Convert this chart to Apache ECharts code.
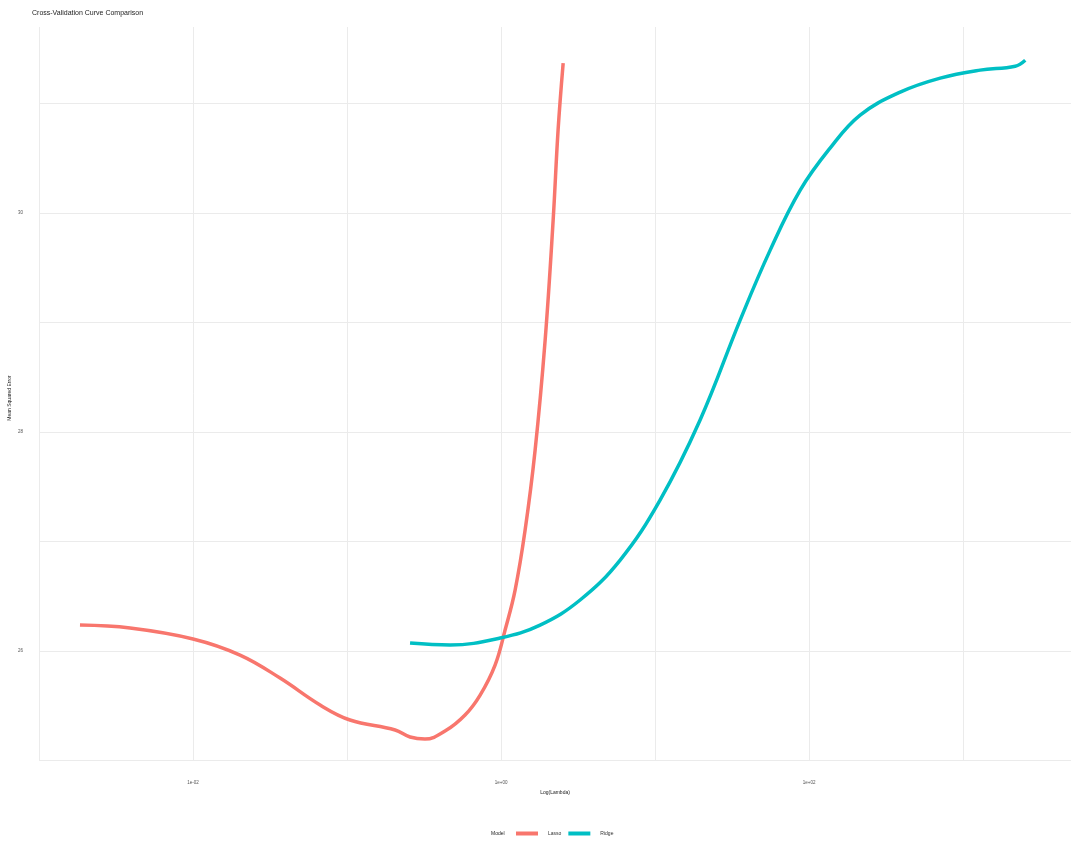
<!DOCTYPE html>
<html><head><meta charset="utf-8">
<script src="https://cdn.jsdelivr.net/npm/echarts@6/dist/echarts.min.js"></script>
<style>html,body{margin:0;padding:0;background:#fff}#c{width:1080px;height:864px}</style>
</head><body><div id="c"></div>
<script>
// log10(lambda) and mean squared error
const lassoLogLambda = [-2.734,-2.409,-2.0,-1.695,-1.435,-1.175,-0.981,-0.688,-0.591,-0.494,-0.364,-0.234,-0.136,-0.039,0.026,0.091,0.156,0.221,0.286,0.338,0.370,0.403];
const lassoMSE = [26.237,26.210,26.110,25.963,25.753,25.507,25.370,25.279,25.215,25.196,25.269,25.416,25.598,25.872,26.192,26.557,27.105,27.836,28.840,29.936,30.758,31.370];
const ridgeLogLambda = [-0.591,-0.331,-0.006,0.253,0.513,0.773,1.032,1.292,1.552,1.747,1.942,2.136,2.331,2.591,2.851,3.110,3.338,3.403];
const ridgeMSE = [26.073,26.055,26.119,26.237,26.466,26.831,27.379,28.110,29.023,29.662,30.210,30.594,30.895,31.105,31.233,31.306,31.342,31.397];
const xTickLabels = {'-2':'1e-02','0':'1e+00','2':'1e+02'};
const yTickLabels = {'26':'26','28':'28','30':'30'};
const seriesNames = ['Lasso','Ridge'];
const colors = ['#F8766D','#00BFC4'];

const chart = echarts.init(document.getElementById('c'));
const font = 'Liberation Sans, Arial, sans-serif';
chart.setOption({
  animation:false,
  backgroundColor:'#fff',
  title:{text:'Cross-Validation Curve Comparison',left:27,top:5,textStyle:{fontSize:7,fontWeight:'normal',color:'#222',fontFamily:font}},
  grid:{left:39,right:9,top:27,bottom:103.5,outerBoundsMode:'none',containLabel:false},
  legend:{top:826,left:511,itemWidth:22,itemHeight:4,itemGap:7,icon:'rect',
    data:seriesNames,textStyle:{fontSize:5,color:'#333',fontFamily:font,padding:[0,0,0,5]}},
  graphic:[
    {type:'text',left:491,top:831,style:{text:'Model',fontSize:5,fill:'#222',fontFamily:font}},
    {type:'text',x:10,y:398,rotation:Math.PI/2,style:{text:'Mean Squared Error',fontSize:5,fill:'#222',fontFamily:font,align:'center',verticalAlign:'middle'}}
  ],
  xAxis:{type:'value',min:-3,max:3.7,interval:1,name:'Log(Lambda)',nameLocation:'middle',nameGap:30,
    nameTextStyle:{fontSize:5,color:'#222',fontFamily:font},
    axisLine:{show:false},axisTick:{show:false},
    axisLabel:{fontSize:4.5,color:'#555',margin:20,fontFamily:font,showMaxLabel:false,formatter:v=>xTickLabels[String(Math.round(v))]||''},
    splitLine:{show:true,showMaxLine:false,lineStyle:{color:'#ebebeb',width:1}}},
  yAxis:{type:'value',min:25,max:31.7,interval:1,
    axisLine:{show:false},axisTick:{show:false},
    axisLabel:{fontSize:4.5,color:'#555',margin:16,fontFamily:font,showMaxLabel:false,formatter:v=>yTickLabels[String(Math.round(v))]||''},
    splitLine:{show:true,showMaxLine:false,lineStyle:{color:'#ebebeb',width:1}}},
  series:[
    {name:seriesNames[0],type:'line',smooth:0.4,showSymbol:false,data:lassoLogLambda.map((x,i)=>[x,lassoMSE[i]]),
     lineStyle:{color:colors[0],width:3.5},itemStyle:{color:colors[0]}},
    {name:seriesNames[1],type:'line',smooth:0.4,showSymbol:false,data:ridgeLogLambda.map((x,i)=>[x,ridgeMSE[i]]),
     lineStyle:{color:colors[1],width:3.5},itemStyle:{color:colors[1]}}
  ]
});
</script></body></html>
